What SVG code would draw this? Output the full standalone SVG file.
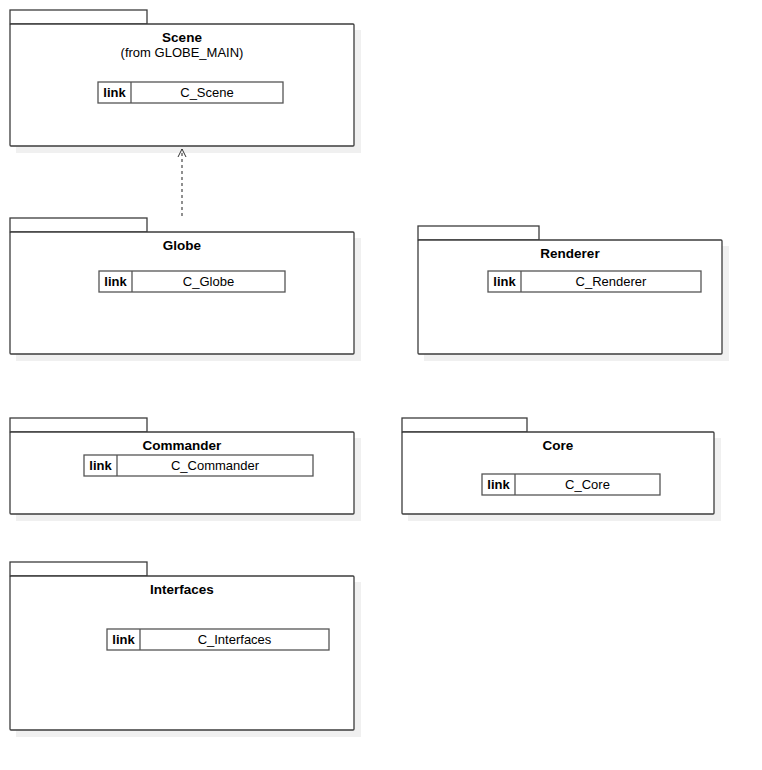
<svg xmlns="http://www.w3.org/2000/svg" width="762" height="770" viewBox="0 0 762 770">
<style>
.bg{fill:#ffffff}
.sh{fill:#f0f0f0}
.pk{fill:#ffffff;stroke:#3c3c3c;stroke-width:1.3}
.lk{fill:#ffffff;stroke:#555555;stroke-width:1.3}
.t{font-family:"Liberation Sans",Arial,sans-serif;font-size:13.5px;font-weight:bold;fill:#000;text-anchor:middle}
.s{font-family:"Liberation Sans",Arial,sans-serif;font-size:13px;fill:#000;text-anchor:middle}
.b{font-family:"Liberation Sans",Arial,sans-serif;font-size:13px;font-weight:bold;fill:#000;text-anchor:middle}
.dep{fill:none;stroke:#555555;stroke-width:1.3;stroke-dasharray:3,3}
.ah{fill:none;stroke:#333333;stroke-width:1}
</style>
<defs>
<marker id="open" markerWidth="10" markerHeight="10" refX="8" refY="5" orient="auto" markerUnits="userSpaceOnUse">
<path class="ah" d="M0,1 L8,5 L0,9"/>
</marker>
</defs>
<rect class="bg" x="0" y="0" width="762" height="770"/>

<g id="Scene">
<rect class="sh" x="16" y="30" width="345" height="123"/>
<rect class="pk" x="10" y="10" width="137" height="14"/>
<rect class="pk" x="10" y="24" width="344" height="122" rx="1"/>
<text class="t" x="182" y="42">Scene</text>
<text class="s" x="182" y="57">(from GLOBE_MAIN)</text>
<rect class="lk" x="98" y="82" width="185" height="21"/>
<line class="lk" x1="131" y1="82" x2="131" y2="103"/>
<text class="b" x="114.5" y="97">link</text>
<text class="s" x="207" y="97">C_Scene</text>
</g>

<g id="Globe">
<rect class="sh" x="16" y="238" width="345" height="123"/>
<rect class="pk" x="10" y="218" width="137" height="14"/>
<rect class="pk" x="10" y="232" width="344" height="122" rx="1"/>
<text class="t" x="182" y="250">Globe</text>
<rect class="lk" x="99" y="271" width="186" height="21"/>
<line class="lk" x1="132" y1="271" x2="132" y2="292"/>
<text class="b" x="115.5" y="286">link</text>
<text class="s" x="208.5" y="286">C_Globe</text>
</g>

<g id="Renderer">
<rect class="sh" x="424" y="246" width="305" height="115"/>
<rect class="pk" x="418" y="226" width="121" height="14"/>
<rect class="pk" x="418" y="240" width="304" height="114" rx="1"/>
<text class="t" x="570" y="258">Renderer</text>
<rect class="lk" x="488" y="271" width="213" height="21"/>
<line class="lk" x1="521" y1="271" x2="521" y2="292"/>
<text class="b" x="504.5" y="286">link</text>
<text class="s" x="611" y="286">C_Renderer</text>
</g>

<g id="Commander">
<rect class="sh" x="16" y="438" width="345" height="83"/>
<rect class="pk" x="10" y="418" width="137" height="14"/>
<rect class="pk" x="10" y="432" width="344" height="82" rx="1"/>
<text class="t" x="182" y="450">Commander</text>
<rect class="lk" x="84" y="455" width="229" height="21"/>
<line class="lk" x1="117" y1="455" x2="117" y2="476"/>
<text class="b" x="100.5" y="470">link</text>
<text class="s" x="215" y="470">C_Commander</text>
</g>

<g id="Core">
<rect class="sh" x="408" y="438" width="313" height="83"/>
<rect class="pk" x="402" y="418" width="125" height="14"/>
<rect class="pk" x="402" y="432" width="312" height="82" rx="1"/>
<text class="t" x="558" y="450">Core</text>
<rect class="lk" x="482" y="474" width="178" height="21"/>
<line class="lk" x1="515" y1="474" x2="515" y2="495"/>
<text class="b" x="498.5" y="489">link</text>
<text class="s" x="587.5" y="489">C_Core</text>
</g>

<g id="Interfaces">
<rect class="sh" x="16" y="582" width="345" height="155"/>
<rect class="pk" x="10" y="562" width="137" height="14"/>
<rect class="pk" x="10" y="576" width="344" height="154" rx="1"/>
<text class="t" x="182" y="594">Interfaces</text>
<rect class="lk" x="107" y="629" width="222" height="21"/>
<line class="lk" x1="140" y1="629" x2="140" y2="650"/>
<text class="b" x="123.5" y="644">link</text>
<text class="s" x="234.5" y="644">C_Interfaces</text>
</g>

<g id="connectors">
<line class="dep" x1="182" y1="216" x2="182" y2="149" marker-end="url(#open)"/>
</g>
</svg>
